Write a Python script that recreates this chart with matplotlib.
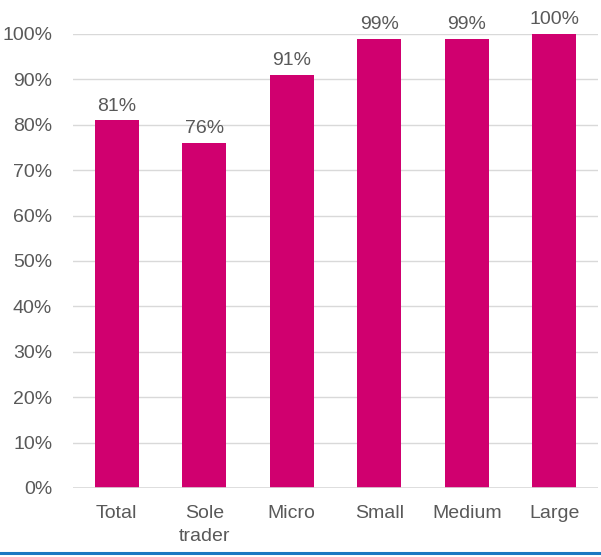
import matplotlib
matplotlib.use("Agg")
import matplotlib.pyplot as plt
from matplotlib.lines import Line2D
from matplotlib.ticker import MultipleLocator, FuncFormatter

categories = ["Total", "Sole\ntrader", "Micro", "Small", "Medium", "Large"]
shares = [81, 76, 91, 99, 99, 100]

BAR = "#D0006F"
TEXT = "#595959"
GRID = "#D9D9D9"
FS = 14

plt.rcParams["font.family"] = ["Liberation Sans", "DejaVu Sans"]

fig = plt.figure(figsize=(6.01, 5.57), dpi=100)
ax = fig.add_axes([0.1215, 0.1239, 0.8735, 0.8151])

x = range(len(categories))
bars = ax.bar(x, shares, width=0.5, color=BAR, zorder=3)
for b, v in zip(bars, shares):
    ax.annotate(f"{v}%", (b.get_x() + b.get_width() / 2, v),
                xytext=(0, 4), textcoords="offset points",
                ha="center", va="bottom", fontsize=FS, color=TEXT)

ax.set_xlim(-0.5, len(categories) - 0.5)
ax.set_ylim(0, 100)
ax.yaxis.set_major_locator(MultipleLocator(10))
ax.yaxis.set_major_formatter(FuncFormatter(lambda v, _: f"{v:.0f}%"))
ax.set_xticks(list(x))
ax.set_xticklabels(categories, linespacing=1.45)

ax.grid(axis="y", color=GRID, linewidth=1, zorder=0)
for s in ax.spines.values():
    s.set_visible(False)
ax.axhline(0, color=GRID, linewidth=1.2, zorder=4)
ax.tick_params(axis="both", length=0, labelsize=FS, labelcolor=TEXT)
ax.tick_params(axis="y", pad=15)
ax.tick_params(axis="x", pad=12)

# blue rule along the bottom edge
fig.add_artist(Line2D([0, 1], [0.0066, 0.0066], transform=fig.transFigure,
                      color="#1A78C2", linewidth=2.2))

fig.savefig("out.png", dpi=100)
